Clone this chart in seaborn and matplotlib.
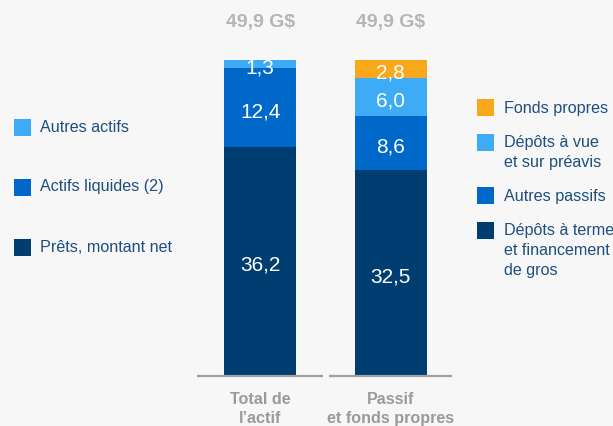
import matplotlib
matplotlib.use("Agg")
import matplotlib.pyplot as plt
from matplotlib.patches import Rectangle
import numpy as np
import seaborn as sns

# data
categories = ["Total de\nl’actif", "Passif\net fonds propres"]
actif_labels = ["Prêts, montant net", "Actifs liquides (2)", "Autres actifs"]
actif_values = [36.2, 12.4, 1.3]
passif_labels = ["Dépôts à terme\net financement\nde gros", "Autres passifs",
                 "Dépôts à vue\net sur préavis", "Fonds propres"]
passif_values = [32.5, 8.6, 6.0, 2.8]

navy = "#003e71"
mid = "#0068c9"
light = "#3eabf6"
orange = "#f9a81b"
actif_colors = [navy, mid, light]
passif_colors = [navy, mid, light, orange]

bg = "#f7f7f7"
sns.set_style("white")
plt.rcParams["font.family"] = ["Liberation Sans", "DejaVu Sans"]

W, H = 613, 426
fig = plt.figure(figsize=(W / 100, H / 100), dpi=100, facecolor=bg)


def px(x, y):
    return x / W, 1 - y / H


# axes placed so that the bars sit where they are in the reference
ax = fig.add_axes([197 / W, 50 / H, 255 / W, 376 / H])
ax.set_facecolor(bg)

stacks = [(categories[0], actif_values, actif_colors),
          (categories[1], passif_values, passif_colors)]

# stacked bars: draw cumulative sums from the tallest down
for cat, vals, cols in stacks:
    cum = np.cumsum(vals)
    for i in range(len(vals) - 1, -1, -1):
        sns.barplot(x=[cat], y=[cum[i]], order=categories, color=cols[i],
                    width=0.552, saturation=1, linewidth=0, ax=ax)
    starts = np.concatenate([[0], cum[:-1]])
    for s, v in zip(starts, vals):
        ax.text(categories.index(cat), s + v / 2 - 0.3, f"{v:.1f}".replace(".", ","),
                ha="center", va="center_baseline", color="white", fontsize=15)
    ax.text(categories.index(cat), 55.9, f"{cum[-1]:.1f} G$".replace(".", ","),
            ha="center", va="center", color="#b5b5b5", fontsize=14, fontweight="bold")

ax.set_xlim(-0.485, 1.469)
ax.set_ylim(0, 59.4)
ax.set_ylabel("")
ax.set_xlabel("")
ax.set_yticks([])
sns.despine(ax=ax, left=True, bottom=True)
ax.hlines(0, -0.485, 0.482, color="#a0a0a0", lw=1.6, clip_on=False)
ax.hlines(0, 0.529, 1.469, color="#a0a0a0", lw=1.6, clip_on=False)
ax.tick_params(axis="x", length=0, pad=11.5)
for lab in ax.get_xticklabels():
    lab.set_fontsize(11.6)
    lab.set_fontweight("bold")
    lab.set_color("#9a9a9a")
    lab.set_linespacing(1.3)

# manual legends
txt_color = "#1d4e7e"
left_rows = [(127, actif_labels[2], light), (187, actif_labels[1], mid),
             (247, actif_labels[0], navy)]
for yc, lab, c in left_rows:
    x0, y0 = px(14, yc + 8.5)
    fig.add_artist(Rectangle((x0, y0), 17 / W, 17 / H, transform=fig.transFigure,
                             facecolor=c, edgecolor="none"))
    fig.text(*px(40, yc), lab, ha="left", va="center", color=txt_color, fontsize=11.6)

right_rows = [(107, passif_labels[3], orange), (142, passif_labels[2], light),
              (195, passif_labels[1], mid), (230, passif_labels[0], navy)]
for yc, lab, c in right_rows:
    x0, y0 = px(477, yc + 8.5)
    fig.add_artist(Rectangle((x0, y0), 17 / W, 17 / H, transform=fig.transFigure,
                             facecolor=c, edgecolor="none"))
    fig.text(*px(504, yc - 6.5), lab, ha="left", va="top", color=txt_color,
             fontsize=11.6, linespacing=1.38)

fig.savefig("out.png", dpi=100, facecolor=bg)
